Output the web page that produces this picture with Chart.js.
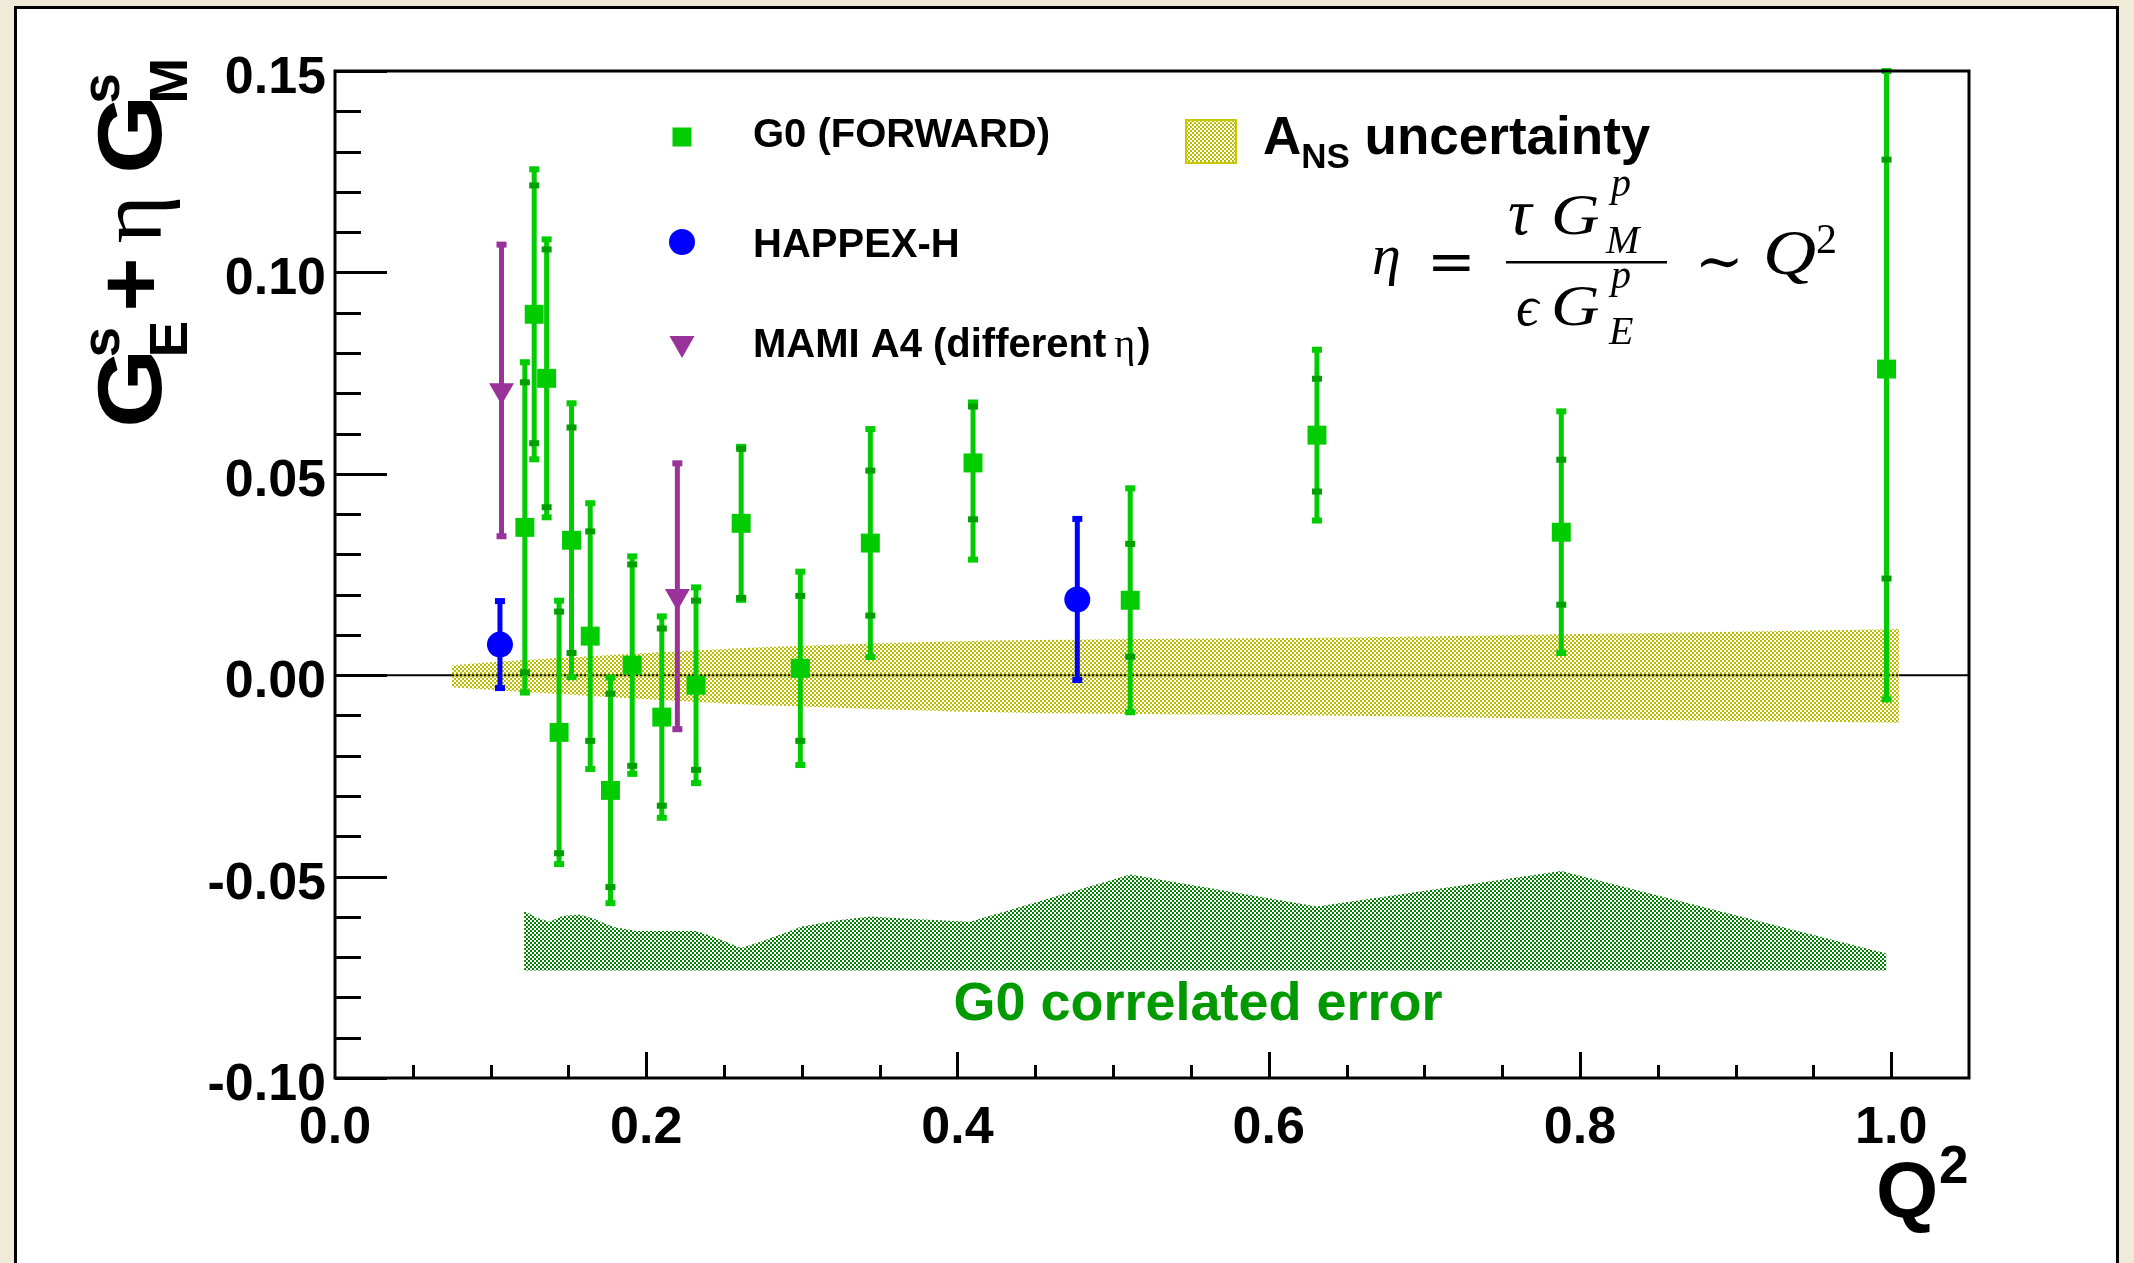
<!DOCTYPE html>
<html>
<head>
<meta charset="utf-8">
<script src="https://cdn.jsdelivr.net/npm/chart.js@4"></script>
<style>
  html, body { margin: 0; padding: 0; background: #f0ead8; }
  canvas { display: block; }
</style>
</head>
<body>
<canvas id="grafico" width="2134" height="1263"></canvas>
<script>
    // Dados
    const g0Q      = [0.122, 0.128, 0.136, 0.144, 0.152, 0.164, 0.177, 0.191, 0.210, 0.232, 0.261, 0.299, 0.344, 0.410, 0.511, 0.631, 0.788, 0.997];
    const g0Val    = [0.0367, 0.0896, 0.0737, -0.0142, 0.0335, 0.0097, -0.0286, 0.0025, -0.0104, -0.0025, 0.0377, 0.0017, 0.0328, 0.0527, 0.0186, 0.0596, 0.0355, 0.0760];
    const g0Stat   = [0.036, 0.032, 0.032, 0.030, 0.028, 0.026, 0.024, 0.025, 0.022, 0.021, 0.0185, 0.018, 0.018, 0.014, 0.014, 0.014, 0.018, 0.052];
    const g0TotUp  = [0.041, 0.036, 0.0345, 0.0327, 0.034, 0.033, 0.028, 0.027, 0.025, 0.0243, 0.019, 0.024, 0.0283, 0.015, 0.0278, 0.0212, 0.030, 0.082];
    const g0TotDown= [0.041, 0.036, 0.0345, 0.0327, 0.034, 0.033, 0.028, 0.027, 0.025, 0.0243, 0.019, 0.024, 0.0283, 0.024, 0.0278, 0.0212, 0.030, 0.082];

    const happexQ   = [0.106, 0.477];
    const happexVal = [0.0076, 0.0188];
    const happexErr = [0.0108, 0.0200];

    const mamiQ   = [0.107, 0.220];
    const mamiVal = [0.0707, 0.0196];
    const mamiErr = [0.0362, 0.0330];

    // banda A_NS
    const ansQ    = [0.075, 0.10, 0.15, 0.20, 0.25, 0.30, 0.40, 0.50, 0.60, 0.70, 0.80, 0.90, 1.005];
    const ansUp   = [0.0024, 0.0032, 0.0044, 0.0055, 0.0065, 0.0073, 0.0084, 0.0089, 0.0092, 0.0096, 0.0102, 0.0108, 0.0115];
    const ansDown = [-0.0030, -0.0036, -0.0048, -0.0060, -0.0070, -0.0078, -0.0090, -0.0096, -0.0099, -0.0103, -0.0109, -0.0114, -0.0118];

    // erro correlacionado G0
    const corrQ   = [0.1215, 0.130, 0.138, 0.146, 0.157, 0.166, 0.179, 0.194, 0.232, 0.241, 0.261, 0.275, 0.300, 0.322, 0.344, 0.365, 0.408, 0.511, 0.631, 0.788, 0.997];
    const corrTop = [-0.0585, -0.0603, -0.0612, -0.0598, -0.0594, -0.0604, -0.0625, -0.0635, -0.0635, -0.0646, -0.0677, -0.0660, -0.0624, -0.0609, -0.0599, -0.0604, -0.0612, -0.0495, -0.0574, -0.0486, -0.0691];
    const corrBase = -0.0733;

    const xTicks = [0.0, 0.2, 0.4, 0.6, 0.8, 1.0];
    const xTickLabels = ["0.0", "0.2", "0.4", "0.6", "0.8", "1.0"];
    const yTicks = [-0.10, -0.05, 0.00, 0.05, 0.10, 0.15];
    const yTickLabels = ["-0.10", "-0.05", "0.00", "0.05", "0.10", "0.15"];

    const pontos = (xs, ys) => xs.map((q, i) => ({ x: q, y: ys[i] }));

    const canvas = document.getElementById('grafico');
    const ctx = canvas.getContext('2d');

    function xadrez(cor) {
      const c = document.createElement('canvas');
      c.width = 4; c.height = 4;
      const g = c.getContext('2d');
      g.fillStyle = cor;
      g.fillRect(0, 0, 2, 2);
      g.fillRect(2, 2, 2, 2);
      return ctx.createPattern(c, 'repeat');
    }
    const padraoAmarelo = xadrez('#bdbd00');
    const padraoVerde = xadrez('#008500');

    const SANS = '"Liberation Sans", Arial, sans-serif';
    const SERIF = '"Liberation Serif", "DejaVu Serif", serif';

    // fundo e moldura
    const moldura = {
      id: 'moldura',
      beforeDraw(chart) {
        const c = chart.ctx;
        c.save();
        c.fillStyle = '#f0ead8';
        c.fillRect(0, 0, chart.width, chart.height);
        c.fillStyle = '#ffffff';
        c.fillRect(15, 7, 2103, chart.height);
        c.strokeStyle = '#000';
        c.lineWidth = 3;
        c.beginPath();
        c.moveTo(15.5, chart.height + 5);
        c.lineTo(15.5, 7.5);
        c.lineTo(2117.5, 7.5);
        c.lineTo(2117.5, chart.height + 5);
        c.stroke();
        c.restore();
      },
      beforeDatasetsDraw(chart) {
        const { ctx: c, chartArea: a, scales: { y } } = chart;
        const y0 = y.getPixelForValue(0);
        c.save();
        c.strokeStyle = '#000';
        c.lineWidth = 2;
        c.beginPath();
        c.moveTo(a.left, y0);
        c.lineTo(a.right, y0);
        c.stroke();
        c.restore();
      }
    };

    // barras de erro
    const barrasErro = {
      id: 'barrasErro',
      beforeDatasetDraw(chart, args) {
        const ds = chart.data.datasets[args.index];
        if (!ds.errUp) return;
        const { ctx: c, chartArea: a, scales: { x, y } } = chart;
        c.save();
        c.beginPath();
        c.rect(a.left, a.top - 4, a.right - a.left, a.bottom - a.top + 8);
        c.clip();
        ds.data.forEach((p, i) => {
          const px = x.getPixelForValue(p.x);
          const top = y.getPixelForValue(Math.min(p.y + ds.errUp[i], y.max));
          const bot = y.getPixelForValue(Math.max(p.y - ds.errDown[i], y.min));
          c.fillStyle = ds.backgroundColor;
          c.fillRect(px - 2.5, top, 5, bot - top);
          c.fillRect(px - 5, top - 3, 10, 6);
          c.fillRect(px - 5, bot - 3, 10, 6);
          if (ds.errStat) {
            c.fillStyle = ds.statColor;
            const s1 = y.getPixelForValue(p.y + ds.errStat[i]);
            const s2 = y.getPixelForValue(p.y - ds.errStat[i]);
            c.fillRect(px - 5, s1 - 3, 10, 6);
            c.fillRect(px - 5, s2 - 3, 10, 6);
          }
        });
        c.restore();
      }
    };

    // texto com escala horizontal
    function textoLargo(c, txt, x, y, sx) {
      c.save();
      c.translate(x, y);
      c.scale(sx, 1);
      c.fillText(txt, 0, 0);
      c.restore();
    }

    // eixos, ticks, textos
    const eixos = {
      id: 'eixos',
      afterDatasetsDraw(chart) {
        const { ctx: c, chartArea: a, scales: { x, y } } = chart;
        c.save();
        c.strokeStyle = '#000';
        c.lineWidth = 3;
        c.strokeRect(a.left, a.top, a.right - a.left, a.bottom - a.top);
        c.beginPath();
        for (let v = -0.10; v <= 0.1501; v += 0.01) {
          const yy = Math.round(y.getPixelForValue(v)) + 0.5;
          const major = yTicks.some(t => Math.abs(t - v) < 1e-6);
          c.moveTo(a.left, yy);
          c.lineTo(a.left + (major ? 52 : 26), yy);
        }
        for (let v = 0.05; v <= 1.0001; v += 0.05) {
          const xx = Math.round(x.getPixelForValue(v)) + 0.5;
          const major = xTicks.some(t => Math.abs(t - v) < 1e-6);
          c.moveTo(xx, a.bottom);
          c.lineTo(xx, a.bottom - (major ? 26 : 13));
        }
        c.stroke();

        c.fillStyle = '#000';
        c.font = 'bold 52px ' + SANS;
        c.textAlign = 'right';
        c.textBaseline = 'alphabetic';
        yTicks.forEach((t, i) => c.fillText(yTickLabels[i], 326, y.getPixelForValue(t) + 22));
        c.textAlign = 'center';
        xTicks.forEach((t, i) => c.fillText(xTickLabels[i], x.getPixelForValue(t), 1143));
        c.restore();
      },
      afterDraw(chart) {
        const c = chart.ctx;
        c.save();
        c.fillStyle = '#000';
        c.textAlign = 'left';
        c.textBaseline = 'alphabetic';

        // título do eixo y (rotacionado)
        c.save();
        c.translate(161, 428);
        c.rotate(-Math.PI / 2);
        c.scale(1.02, 1);
        c.font = 'bold 91px ' + SANS;
        textoLargo(c, 'G', 0, 0, 1.1);
        c.font = 'bold 54px ' + SANS;
        c.fillText('s', 69, -42);
        c.fillText('E', 69, 26);
        c.font = 'bold 91px ' + SANS;
        c.fillText('+', 114, 0);
        c.font = '91px ' + SERIF;
        c.fillText('η', 181, 0);
        c.font = 'bold 91px ' + SANS;
        textoLargo(c, 'G', 249, 0, 1.1);
        c.font = 'bold 54px ' + SANS;
        c.fillText('s', 318, -42);
        c.fillText('M', 318, 26);
        c.restore();

        // título do eixo x
        c.font = 'bold 80px ' + SANS;
        c.fillText('Q', 1876, 1217);
        c.font = 'bold 53px ' + SANS;
        c.fillText('2', 1939, 1183);

        // legenda
        const mx = 682;
        c.fillStyle = '#00cc00';
        c.fillRect(mx - 9.5, 137 - 9.5, 19, 19);
        c.fillStyle = '#0000ff';
        c.beginPath(); c.arc(mx, 242, 13, 0, Math.PI * 2); c.fill();
        c.fillStyle = '#993399';
        c.beginPath(); c.moveTo(mx - 12.5, 336); c.lineTo(mx + 12.5, 336); c.lineTo(mx, 358); c.closePath(); c.fill();

        c.fillStyle = '#000';
        c.font = 'bold 40px ' + SANS;
        c.fillText('G0 (FORWARD)', 753, 147);
        c.fillText('HAPPEX-H', 753, 257);
        const t1 = 'MAMI A4 (different';
        c.fillText(t1, 753, 357);
        let w = c.measureText(t1).width;
        c.font = '40px ' + SERIF;
        c.fillText('η', 753 + w + 8, 357);
        const we = c.measureText('η').width;
        c.font = 'bold 40px ' + SANS;
        c.fillText(')', 753 + w + 10 + we, 357);

        // legenda A_NS
        c.fillStyle = padraoAmarelo;
        c.fillRect(1186, 120, 50, 43);
        c.strokeStyle = '#c8c800';
        c.lineWidth = 2;
        c.strokeRect(1186, 120, 50, 43);
        c.fillStyle = '#000';
        c.font = 'bold 53px ' + SANS;
        c.fillText('A', 1263, 154);
        let xa = 1263 + c.measureText('A').width;
        c.font = 'bold 35px ' + SANS;
        c.fillText('NS', xa, 168);
        xa += c.measureText('NS').width;
        c.font = 'bold 53px ' + SANS;
        c.fillText(' uncertainty', xa, 154);

        // fórmula de eta
        c.font = 'italic 58px ' + SERIF;
        c.fillText('η', 1372, 274);
        c.font = '58px "DejaVu Serif", serif';
        c.fillText('=', 1427, 281);
        c.fillRect(1506, 261, 161, 2.5);
        c.font = 'italic 66px ' + SERIF;
        c.fillText('τ', 1508, 234);
        c.font = 'italic 56px ' + SERIF;
        textoLargo(c, 'G', 1551, 234, 1.2);
        c.fillText('ϵ', 1516, 325);
        textoLargo(c, 'G', 1551, 325, 1.2);
        c.font = 'italic 40px ' + SERIF;
        c.fillText('p', 1611, 196);
        c.fillText('M', 1606, 253);
        c.fillText('p', 1611, 288);
        c.fillText('E', 1609, 344);
        c.font = '58px "DejaVu Serif", serif';
        c.fillText('∼', 1695, 281);
        c.font = 'italic 64px ' + SERIF;
        textoLargo(c, 'Q', 1763, 274, 1.15);
        c.font = '42px ' + SERIF;
        c.fillText('2', 1816, 253);

        // rótulo do erro correlacionado
        c.fillStyle = '#009900';
        c.font = 'bold 54px ' + SANS;
        c.textAlign = 'center';
        c.fillText('G0 correlated error', 1198, 1020);
        c.restore();
      }
    };

    new Chart(ctx, {
      type: 'scatter',
      data: {
        datasets: [
          {
            label: 'G0 (FORWARD)',
            data: pontos(g0Q, g0Val),
            errUp: g0TotUp, errDown: g0TotDown, errStat: g0Stat, statColor: '#009f00',
            pointStyle: 'rect', pointRadius: 13.4, pointBorderWidth: 0,
            backgroundColor: '#00cc00', borderColor: '#00cc00', order: 1
          },
          {
            label: 'HAPPEX-H',
            data: pontos(happexQ, happexVal),
            errUp: happexErr, errDown: happexErr,
            pointStyle: 'circle', pointRadius: 13, pointBorderWidth: 0,
            backgroundColor: '#0000ff', borderColor: '#0000ff', order: 2
          },
          {
            label: 'MAMI A4',
            data: pontos(mamiQ, mamiVal),
            errUp: mamiErr, errDown: mamiErr,
            pointStyle: 'triangle', rotation: 180, pointRadius: 14.4, pointBorderWidth: 0,
            backgroundColor: '#993399', borderColor: '#993399', order: 3
          },
          {
            type: 'line', label: 'ANS sup',
            data: pontos(ansQ, ansUp),
            pointRadius: 0, borderWidth: 1, borderColor: 'rgba(0,0,0,0)',
            cubicInterpolationMode: 'monotone', fill: false, order: 10
          },
          {
            type: 'line', label: 'ANS inf',
            data: pontos(ansQ, ansDown),
            pointRadius: 0, borderWidth: 1, borderColor: 'rgba(0,0,0,0)',
            cubicInterpolationMode: 'monotone', fill: '-1', backgroundColor: padraoAmarelo, order: 10
          },
          {
            type: 'line', label: 'G0 correlated error',
            data: pontos(corrQ, corrTop),
            pointRadius: 0, borderWidth: 1, borderColor: 'rgba(0,0,0,0)',
            tension: 0, fill: { value: corrBase }, backgroundColor: padraoVerde, order: 10
          }
        ]
      },
      options: {
        responsive: false,
        devicePixelRatio: 1,
        animation: false,
        events: [],
        layout: { padding: { left: 335, right: 165, top: 71, bottom: 185 } },
        plugins: { legend: { display: false }, tooltip: { enabled: false } },
        scales: {
          x: { type: 'linear', min: 0, max: 1.05, display: false },
          y: { type: 'linear', min: -0.10, max: 0.15, display: false }
        }
      },
      plugins: [moldura, barrasErro, eixos]
    });
</script>
</body>
</html>
